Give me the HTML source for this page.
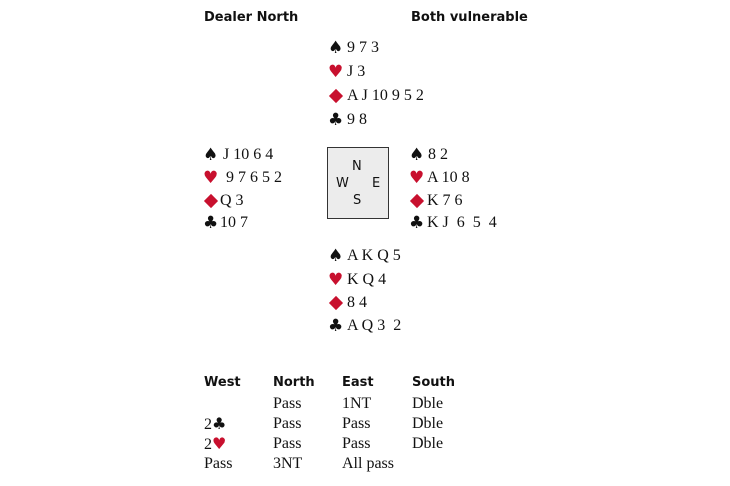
<!DOCTYPE html>
<html><head><style>
body{margin:0;width:730px;height:486px;background:#fff;position:relative;overflow:hidden;font-family:"Liberation Serif",serif;color:#111}
.a{position:absolute;white-space:pre;line-height:1}
.h{font-family:"DejaVu Sans",sans-serif;font-weight:bold;font-size:13px}
.c{font-size:16px}
.s{font-size:17px;font-family:"DejaVu Sans",sans-serif}
.r{color:#c8102e}
.dm{position:absolute;width:10px;height:10px;background:#c8102e;transform:rotate(45deg)}
.box{position:absolute;left:327px;top:147px;width:60px;height:70px;border:1.5px solid #333;background:#ececec}
.d{position:absolute;font-family:"DejaVu Sans",sans-serif;font-size:13px;line-height:1}
</style></head><body>
<div class="a h" style="left:204px;top:11px">Dealer North</div>
<div class="a h" style="left:411px;top:11px">Both vulnerable</div>

<div class="a s" style="left:328px;top:40px">♠</div><div class="a c" style="left:347px;top:40px">9 7 3</div>
<div class="a s r" style="left:328px;top:64px">♥</div><div class="a c" style="left:347px;top:64px">J 3</div>
<div class="dm" style="left:331px;top:91px"></div><div class="a c" style="left:347px;top:88px">A J 10 9 5 2</div>
<div class="a s" style="left:328px;top:112px">♣</div><div class="a c" style="left:347px;top:112px">9 8</div>

<div class="a s" style="left:203px;top:147px">♠</div><div class="a c" style="left:223px;top:147px">J 10 6 4</div>
<div class="a s r" style="left:203px;top:170px">♥</div><div class="a c" style="left:226px;top:170px">9 7 6 5 2</div>
<div class="dm" style="left:206px;top:196px"></div><div class="a c" style="left:220px;top:193px">Q 3</div>
<div class="a s" style="left:203px;top:215px">♣</div><div class="a c" style="left:220px;top:215px">10 7</div>

<div class="box"></div>
<div class="d" style="left:352px;top:160px">N</div>
<div class="d" style="left:336px;top:177px">W</div>
<div class="d" style="left:372px;top:177px">E</div>
<div class="d" style="left:353px;top:194px">S</div>

<div class="a s" style="left:409px;top:147px">♠</div><div class="a c" style="left:428px;top:147px">8 2</div>
<div class="a s r" style="left:409px;top:170px">♥</div><div class="a c" style="left:427px;top:170px">A 10 8</div>
<div class="dm" style="left:412px;top:196px"></div><div class="a c" style="left:427px;top:193px">K 7 6</div>
<div class="a s" style="left:409px;top:215px">♣</div><div class="a c" style="left:427px;top:215px">K J  6  5  4</div>

<div class="a s" style="left:328px;top:248px">♠</div><div class="a c" style="left:347px;top:248px">A K Q 5</div>
<div class="a s r" style="left:328px;top:272px">♥</div><div class="a c" style="left:347px;top:272px">K Q 4</div>
<div class="dm" style="left:331px;top:298px"></div><div class="a c" style="left:347px;top:295px">8 4</div>
<div class="a s" style="left:328px;top:318px">♣</div><div class="a c" style="left:347px;top:318px">A Q 3  2</div>

<div class="a h" style="left:204px;top:376px">West</div>
<div class="a h" style="left:273px;top:376px">North</div>
<div class="a h" style="left:342px;top:376px">East</div>
<div class="a h" style="left:412px;top:376px">South</div>

<div class="a c" style="left:273px;top:396px">Pass</div><div class="a c" style="left:342px;top:396px">1NT</div><div class="a c" style="left:412px;top:396px">Dble</div>
<div class="a c" style="left:204px;top:416px">2<span style="font-size:16px;font-family:'DejaVu Sans',sans-serif">♣</span></div><div class="a c" style="left:273px;top:416px">Pass</div><div class="a c" style="left:342px;top:416px">Pass</div><div class="a c" style="left:412px;top:416px">Dble</div>
<div class="a c" style="left:204px;top:436px">2<span class="r" style="font-size:16px;font-family:'DejaVu Sans',sans-serif">♥</span></div><div class="a c" style="left:273px;top:436px">Pass</div><div class="a c" style="left:342px;top:436px">Pass</div><div class="a c" style="left:412px;top:436px">Dble</div>
<div class="a c" style="left:204px;top:456px">Pass</div><div class="a c" style="left:273px;top:456px">3NT</div><div class="a c" style="left:342px;top:456px">All pass</div>
</body></html>
